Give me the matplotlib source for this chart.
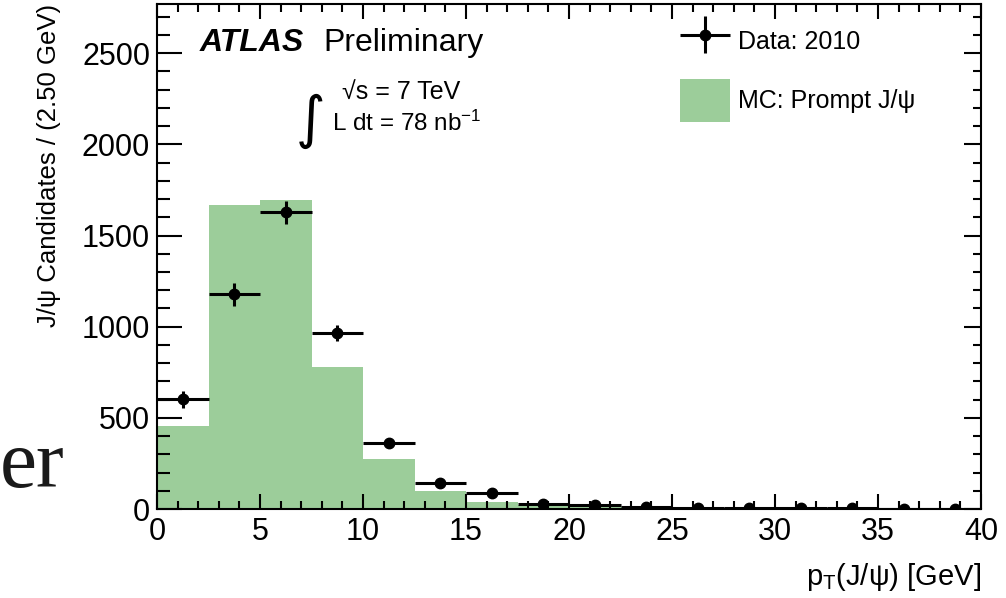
import numpy as np
import matplotlib
matplotlib.use("Agg")
import matplotlib.pyplot as plt
from matplotlib.patches import Patch
from matplotlib.legend_handler import HandlerErrorbar
from matplotlib.ticker import MultipleLocator

plt.rcParams['font.family'] = ['Liberation Sans', 'DejaVu Sans']
plt.rcParams['mathtext.fontset'] = 'custom'
plt.rcParams['mathtext.rm'] = 'Liberation Sans'
plt.rcParams['mathtext.it'] = 'Liberation Sans:italic'

# pT bins (2.5 GeV wide)
bin_edges = np.arange(0, 40.1, 2.5)
bin_centers = 0.5 * (bin_edges[:-1] + bin_edges[1:])

# MC prompt J/psi prediction
mc_prompt = [455, 1670, 1694, 780, 274, 99, 37, 24, 16, 9, 5, 3, 2, 1, 1, 0.5]

# data 2010
data_counts = [603, 1177, 1627, 967, 360, 144, 86, 27, 22, 13, 4, 5, 4, 3, 2, 2]
data_err = [47, 62, 61, 44, 25, 15, 12, 8, 6, 5, 4, 3, 3, 2, 2, 2]

green = '#9ccd9a'

fig = plt.figure(figsize=(10.06, 5.98), dpi=100)
ax = fig.add_axes([0.1561, 0.1488, 0.8191, 0.8445])

ax.stairs(mc_prompt, bin_edges, fill=True, color=green, lw=0, zorder=1)
eb = ax.errorbar(bin_centers, data_counts, xerr=1.25, yerr=data_err, fmt='o',
                 color='k', ms=7.5, lw=2.2, capsize=0, zorder=3)

ax.set_xlim(0, 40)
ax.set_ylim(0, 2770)

ax.xaxis.set_major_locator(MultipleLocator(5))
ax.xaxis.set_minor_locator(MultipleLocator(1))
ax.yaxis.set_major_locator(MultipleLocator(500))
ax.yaxis.set_minor_locator(MultipleLocator(100))

ax.tick_params(axis='both', which='both', direction='in', top=True, right=True,
               width=1.5, labelsize=22)
ax.tick_params(axis='x', which='major', length=11, pad=6)
ax.tick_params(axis='x', which='minor', length=5.5)
ax.tick_params(axis='y', which='major', length=18, pad=5)
ax.tick_params(axis='y', which='minor', length=9.5)
# right-side ticks are shorter
for t in ax.yaxis.get_major_ticks():
    t.tick2line.set_markersize(12)
for t in ax.yaxis.get_minor_ticks():
    t.tick2line.set_markersize(6)

for s in ax.spines.values():
    s.set_linewidth(1.5)

ax.set_xlabel(r'p$_{\mathrm{T}}$(J/ψ) [GeV]', loc='right', fontsize=21, labelpad=10)
ax.set_ylabel('J/ψ Candidates / (2.50 GeV)', loc='top', fontsize=18.5, labelpad=15)

ax.text(0.052, 0.923, 'ATLAS', transform=ax.transAxes, fontsize=23,
        fontweight='bold', fontstyle='italic', va='center', ha='left')
ax.text(0.2015, 0.923, 'Preliminary', transform=ax.transAxes, fontsize=23,
        va='center', ha='left')
ax.text(0.187, 0.768, '∫', transform=ax.transAxes, fontsize=41,
        family=['DejaVu Sans'], va='center', ha='center')
ax.text(0.2245, 0.8257, '√s = 7 TeV', transform=ax.transAxes, fontsize=18,
        va='center', ha='left')
ax.text(0.2124, 0.7644, r'L dt = 78 nb$^{\mathrm{-1}}$', transform=ax.transAxes,
        fontsize=17.5, va='center', ha='left')

handles = [eb, Patch(facecolor=green, edgecolor='none')]
ax.legend(handles, ['Data: 2010', 'MC: Prompt J/ψ'], loc='upper left',
          bbox_to_anchor=(0.6347, 0.968), frameon=False, fontsize=18,
          borderpad=0, borderaxespad=0, handlelength=2.0, handleheight=2.27,
          handletextpad=0.32, labelspacing=0.64,
          handler_map={type(eb): HandlerErrorbar(xerr_size=1.0, yerr_size=0.74)})

fig.text(0.0, 0.1856, 'er', fontsize=60, family='Liberation Serif',
         color='#1a1a1a', ha='left', va='baseline')

fig.savefig('out.png', dpi=100)
